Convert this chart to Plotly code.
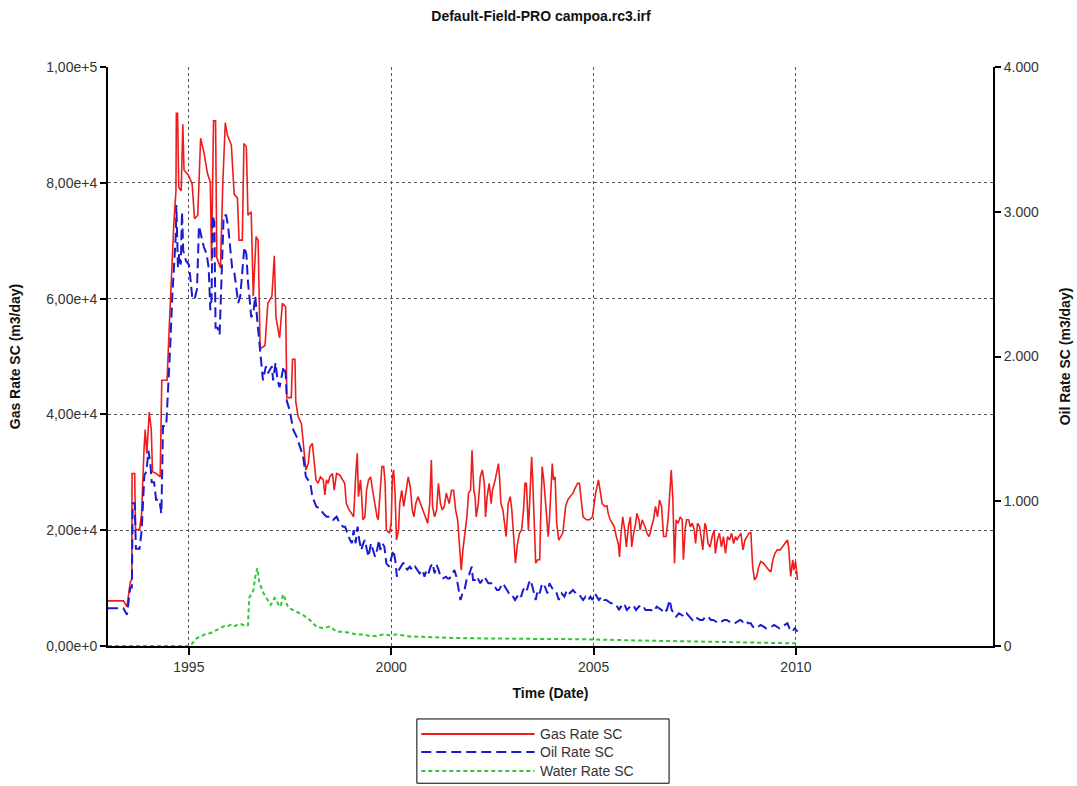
import plotly.graph_objects as go
from datetime import datetime

# ---- Field production rates (time as decimal year) ----
gas_t = [1993.00, 1993.38, 1993.47, 1993.55, 1993.59, 1993.595, 1993.66, 1993.68, 1993.78, 1993.83,
         1993.89, 1993.92, 1993.96, 1994.02, 1994.07, 1994.10, 1994.19, 1994.29, 1994.33, 1994.46,
         1994.51, 1994.57, 1994.63, 1994.68, 1994.69, 1994.72, 1994.75, 1994.81, 1994.85, 1994.88,
         1994.99, 1995.08, 1995.14, 1995.22, 1995.29, 1995.37, 1995.46, 1995.53, 1995.56, 1995.61,
         1995.66, 1995.69, 1995.78, 1995.84, 1995.90, 1995.95, 1996.05, 1996.12, 1996.20, 1996.24,
         1996.32, 1996.36, 1996.42, 1996.46, 1996.54, 1996.59, 1996.66, 1996.71, 1996.76, 1996.88,
         1996.95, 1997.05, 1997.11, 1997.15, 1997.24, 1997.31, 1997.39, 1997.42, 1997.53, 1997.56,
         1997.62, 1997.64,
         1997.70, 1997.78, 1997.84, 1997.89, 1997.95, 1997.99, 1998.05, 1998.09, 1998.14, 1998.19,
         1998.25, 1998.32, 1998.36, 1998.40, 1998.44, 1998.48, 1998.55, 1998.59, 1998.65, 1998.73,
         1998.79, 1998.85, 1998.89, 1998.96, 1999.02, 1999.07, 1999.12, 1999.16, 1999.19, 1999.24,
         1999.27, 1999.30, 1999.35, 1999.39, 1999.44, 1999.49, 1999.54, 1999.59, 1999.65, 1999.68,
         1999.73, 1999.77, 1999.815, 1999.85, 1999.88, 1999.96, 2000.00, 2000.03, 2000.06, 2000.095,
         2000.13, 2000.18, 2000.21, 2000.26, 2000.31, 2000.36, 2000.42, 2000.47, 2000.52, 2000.56,
         2000.605, 2000.66, 2000.72, 2000.79, 2000.85, 2000.90, 2000.95, 2000.99, 2001.02, 2001.07,
         2001.12, 2001.165, 2001.215, 2001.26, 2001.31, 2001.36, 2001.43, 2001.49, 2001.54, 2001.59,
         2001.64, 2001.69, 2001.73, 2001.77, 2001.82, 2001.87, 2001.91, 2001.96, 2001.996, 2002.04,
         2002.07, 2002.10, 2002.15, 2002.20, 2002.25, 2002.30, 2002.33, 2002.37, 2002.42, 2002.47,
         2002.50, 2002.55, 2002.60, 2002.65, 2002.68, 2002.71, 2002.76, 2002.81, 2002.84, 2002.89,
         2002.94, 2002.98, 2003.03, 2003.07, 2003.12, 2003.17, 2003.22, 2003.27, 2003.305, 2003.34,
         2003.39, 2003.42, 2003.47, 2003.50, 2003.54, 2003.57, 2003.62,
         2003.67, 2003.69, 2003.73, 2003.77, 2003.81, 2003.85, 2003.88, 2003.91, 2003.98, 2004.01,
         2004.05, 2004.09, 2004.14, 2004.19, 2004.24, 2004.31, 2004.36, 2004.42, 2004.49, 2004.56,
         2004.605, 2004.65, 2004.69, 2004.74, 2004.82, 2004.90, 2004.97, 2005.00, 2005.05, 2005.12,
         2005.165, 2005.21, 2005.28, 2005.33, 2005.36, 2005.41, 2005.46, 2005.51, 2005.56, 2005.61,
         2005.64, 2005.67, 2005.72, 2005.77, 2005.81, 2005.86, 2005.91, 2005.94, 2005.99, 2006.04,
         2006.07, 2006.12, 2006.15, 2006.20, 2006.27, 2006.32, 2006.37, 2006.40, 2006.43, 2006.48,
         2006.53, 2006.58, 2006.63, 2006.68, 2006.73, 2006.79, 2006.84, 2006.89, 2006.92, 2006.96,
         2007.00, 2007.04, 2007.09, 2007.14, 2007.19, 2007.22, 2007.27, 2007.30, 2007.35, 2007.39,
         2007.44, 2007.49, 2007.52, 2007.57, 2007.62, 2007.67, 2007.70, 2007.75, 2007.78, 2007.83,
         2007.88, 2007.93, 2007.98, 2008.01, 2008.06, 2008.11, 2008.16, 2008.21, 2008.26, 2008.31,
         2008.36, 2008.41, 2008.46, 2008.51, 2008.54, 2008.59, 2008.64, 2008.69, 2008.74, 2008.79,
         2008.84, 2008.885, 2008.93, 2008.975, 2009.03, 2009.08, 2009.13, 2009.20, 2009.26, 2009.33,
         2009.38, 2009.43, 2009.48, 2009.54, 2009.61, 2009.67, 2009.74, 2009.79, 2009.82, 2009.87,
         2009.92, 2009.95, 2009.99, 2010.02, 2010.04]
gas_q = [7800, 7800, 6800, 11000, 11600, 29800, 29800, 20100, 20100, 22800,
         33800, 37400, 33200, 40400, 37400, 30100, 29800, 29200, 45900, 45900,
         54400, 64000, 73200, 78600, 92000, 92000, 79200, 78600, 90100, 82200,
         81300, 79800, 73800, 74400, 87700, 85300, 81600, 80100, 66500, 90700,
         90700, 67100, 65300, 80100, 90400, 88300, 86500, 78000, 77400, 70100,
         70100, 86800, 86200, 74400, 75000, 60400, 70700, 70100, 51300, 51900,
         59200, 60400, 67400, 56800, 53200, 59200, 58600, 42900, 42900, 49500,
         49500, 42200,
         39600, 38400, 34400, 30400, 31500, 34400, 35000, 31500, 28700, 28100,
         29200, 28700, 26100, 28700, 28100, 29200, 29800, 26900, 29800, 29500,
         28700, 28100, 24600, 23500, 22900, 22300, 29200, 33300, 25800, 28700,
         25800, 21800, 22300, 26900, 28700, 29200, 26900, 24600, 22300, 21800,
         28100, 31000, 31000, 28100, 20000, 19500, 21200, 29200, 30400, 26400,
         18300, 20000, 24600, 26900, 24100, 26400, 29200, 27500, 23500, 22300,
         24600, 25800, 24600, 23500, 22300, 21200, 24600, 32100, 24100, 22300,
         23500, 28100, 24600, 23500, 24100, 26400, 24600, 26900, 26900, 23500,
         21800, 17700, 13100, 16600, 20000, 22300, 26400, 26900, 33800, 26900,
         25800, 22300, 24600, 29200, 30400, 28100, 22300, 25800, 28100, 24600,
         26900, 28100, 29800, 31500, 28700, 24600, 23500, 20000, 18900, 24600,
         25800, 23500, 17700, 14300, 17700, 19500, 20000, 23500, 28100, 28100,
         20000, 25800, 32700, 28100, 18900, 14300, 14900,
         14900, 21200, 31000, 28700, 25200, 20600, 18900, 21800, 31500, 28700,
         29200, 21200, 18300, 18900, 19500, 24100, 25200, 25800, 26400, 27500,
         28100, 28100, 25800, 22300, 21800, 21800, 22300, 24100, 26400, 28700,
         26900, 24600, 24100, 24200, 22900, 21800, 21200, 20600, 18900, 17700,
         15400, 18900, 22300, 20000, 17100, 20600, 22300, 17100, 19500, 21200,
         22900, 21800, 20000, 21800, 20600, 19500, 18900, 19500, 20600, 21800,
         24100, 22300, 25200, 24100, 18900, 18900, 21800, 26900, 30400, 25200,
         14300, 21800, 21200, 22300, 21800, 14900, 20600, 21800, 21800, 20600,
         21200, 20000, 17700, 21200, 20600, 18300, 16600, 21200, 20600, 17700,
         17100, 18900, 20000, 16000, 18300, 19500, 17100, 18900, 16000, 18900,
         18300, 19500, 17700, 18900, 18300, 18900, 19500, 16600, 18300, 18900,
         19500, 19600, 13700, 11400, 12000, 13700, 14600, 14300, 13700, 13100,
         12800, 14900, 16000, 16600, 16600, 17100, 17700, 18300, 17100, 12000,
         14900, 13100, 14600, 12000, 11400]

oil_t = [1993.00, 1993.38, 1993.47, 1993.55, 1993.59, 1993.61, 1993.66, 1993.69, 1993.78, 1993.83,
         1993.90, 1993.95, 1994.00, 1994.05, 1994.08, 1994.14, 1994.19, 1994.27, 1994.32, 1994.36,
         1994.44, 1994.49, 1994.54, 1994.59, 1994.64, 1994.68, 1994.69, 1994.73, 1994.76, 1994.80,
         1994.83, 1994.86, 1994.93, 1995.00, 1995.03, 1995.08, 1995.14, 1995.20, 1995.25, 1995.31,
         1995.37, 1995.44, 1995.49, 1995.53, 1995.56, 1995.59, 1995.63, 1995.66, 1995.71, 1995.76,
         1995.81, 1995.86, 1995.92, 1995.97, 1996.02, 1996.07, 1996.12, 1996.17, 1996.22, 1996.27,
         1996.32, 1996.37, 1996.42, 1996.46, 1996.51, 1996.54, 1996.59, 1996.64, 1996.69, 1996.73,
         1996.78, 1996.83, 1996.90, 1996.95, 1997.00, 1997.05, 1997.08, 1997.14, 1997.19, 1997.24,
         1997.29, 1997.34, 1997.39, 1997.42,
         1997.49, 1997.58, 1997.66, 1997.74, 1997.82, 1997.89, 1997.95, 1998.00, 1998.05, 1998.11,
         1998.15, 1998.235, 1998.32, 1998.40, 1998.48, 1998.56, 1998.65, 1998.73, 1998.81, 1998.86,
         1998.91, 1998.98, 1999.03, 1999.07, 1999.12, 1999.17, 1999.21, 1999.26, 1999.31, 1999.35,
         1999.40, 1999.44, 1999.50, 1999.55, 1999.60, 1999.65, 1999.70, 1999.73, 1999.78, 1999.83,
         1999.88, 1999.95, 2000.00, 2000.05, 2000.10, 2000.14, 2000.19, 2000.24, 2000.29, 2000.34,
         2000.39, 2000.46, 2000.52, 2000.59, 2000.655, 2000.70, 2000.77, 2000.82, 2000.87, 2000.92,
         2000.97, 2001.02, 2001.07, 2001.12, 2001.17, 2001.215, 2001.28, 2001.35, 2001.395, 2001.44,
         2001.51, 2001.56, 2001.61, 2001.66, 2001.71, 2001.76, 2001.81, 2001.86, 2001.91, 2001.96,
         2001.99, 2002.02, 2002.07, 2002.12, 2002.17, 2002.20, 2002.25, 2002.30, 2002.35, 2002.40,
         2002.45, 2002.51, 2002.56, 2002.61, 2002.66, 2002.71, 2002.76, 2002.81, 2002.86, 2002.91,
         2002.96, 2003.01, 2003.06, 2003.11, 2003.16, 2003.21, 2003.26, 2003.305, 2003.355, 2003.40,
         2003.44, 2003.49, 2003.54, 2003.57, 2003.62,
         2003.67, 2003.73, 2003.80, 2003.86, 2003.91, 2003.98, 2004.05, 2004.09, 2004.14, 2004.21,
         2004.28, 2004.34, 2004.41, 2004.49, 2004.56, 2004.62, 2004.69, 2004.74, 2004.80, 2004.87,
         2004.92, 2004.97, 2005.03, 2005.08, 2005.13, 2005.20, 2005.26, 2005.31, 2005.36, 2005.43,
         2005.49, 2005.56, 2005.63, 2005.67, 2005.72, 2005.77, 2005.82, 2005.89, 2005.94, 2006.00,
         2006.05, 2006.12, 2006.19, 2006.235, 2006.28, 2006.35, 2006.42, 2006.465, 2006.51, 2006.56,
         2006.63, 2006.68, 2006.74, 2006.81, 2006.88, 2006.93, 2006.98, 2007.04, 2007.11, 2007.17,
         2007.24, 2007.30, 2007.37, 2007.44, 2007.50, 2007.57, 2007.63, 2007.70, 2007.77, 2007.83,
         2007.90, 2007.96, 2008.03, 2008.09, 2008.16, 2008.23, 2008.29, 2008.36, 2008.42, 2008.49,
         2008.56, 2008.62, 2008.69, 2008.75, 2008.82, 2008.885, 2008.93, 2009.00, 2009.07, 2009.13,
         2009.20, 2009.26, 2009.33, 2009.40, 2009.46, 2009.53, 2009.59, 2009.66, 2009.72, 2009.79,
         2009.84, 2009.91, 2009.97, 2010.04]
oil_q = [260, 260, 216, 405, 405, 987, 987, 672, 672, 793,
         1180, 1205, 1350, 1253, 1132, 1132, 1011, 1011, 914, 1520,
         1520, 1763, 2078, 2417, 2708, 2853, 3047, 2611, 2708, 2635,
         2999, 2732, 2660, 2635, 2562, 2417, 2393, 2465, 2902, 2829,
         2756, 2708, 2611, 2320, 2393, 2975, 2926, 2199, 2199, 2150,
         2562, 2975, 2975, 2902, 2756, 2611, 2587, 2490, 2369, 2417,
         2562, 2756, 2708, 2514, 2369, 2272, 2296, 2417, 2247, 2126,
         1957, 1835, 1932, 1884, 1908, 1932, 1835, 1957, 1835, 1787,
         1860, 1932, 1884, 1690,
         1630, 1492, 1447, 1378, 1313, 1170, 1148, 1125, 1031, 985,
         962, 951, 916, 893, 893, 870, 893, 847, 824, 824,
         779, 733, 710, 801, 710, 825, 733, 663, 710, 733,
         663, 617, 710, 663, 617, 663, 733, 663, 710, 687,
         571, 548, 617, 663, 594, 479, 525, 548, 571, 571,
         525, 548, 525, 548, 525, 502, 525, 479, 525, 502,
         548, 571, 502, 560, 525, 479, 468, 479, 467, 467,
         502, 525, 479, 387, 318, 364, 387, 456, 479, 525,
         548, 456, 456, 479, 456, 433, 456, 479, 456, 433,
         433, 433, 410, 387, 387, 410, 433, 410, 387, 364,
         364, 341, 318, 341, 364, 341, 387, 410, 387, 433,
         456, 410, 341, 318, 387,
         364, 433, 410, 364, 433, 398, 387, 364, 318, 364,
         341, 387, 364, 387, 364, 364, 341, 318, 341, 318,
         341, 318, 364, 341, 318, 341, 318, 318, 307, 295,
         295, 283, 249, 272, 260, 283, 249, 272, 283, 272,
         249, 272, 283, 272, 249, 249, 249, 237, 249, 272,
         260, 249, 226, 249, 318, 249, 226, 203, 226, 214,
         203, 226, 203, 180, 203, 191, 180, 180, 203, 203,
         180, 180, 168, 157, 168, 180, 180, 168, 157, 157,
         168, 180, 168, 180, 157, 157, 134, 122, 134, 145,
         134, 122, 134, 134, 145, 134, 122, 134, 145, 157,
         122, 99, 122, 99]

water_t = [1993.00, 1995.03, 1995.12, 1995.20, 1995.29, 1995.37, 1995.46, 1995.54, 1995.63, 1995.71,
           1995.80, 1995.88, 1995.97, 1996.05, 1996.14, 1996.22, 1996.31, 1996.39, 1996.46, 1996.49,
           1996.54, 1996.59, 1996.64, 1996.69, 1996.73, 1996.78, 1996.81, 1996.86, 1996.92, 1996.97,
           1997.02, 1997.07, 1997.12, 1997.17, 1997.22, 1997.27, 1997.32, 1997.37, 1997.42, 1997.49,
           1997.66, 1997.82, 1997.99, 1998.15, 1998.32, 1998.48, 1998.65, 1998.81, 1998.98, 1999.14,
           1999.31, 1999.47, 1999.63, 1999.80, 1999.96, 2000.13, 2000.46, 2000.79, 2001.12, 2001.61,
           2002.10, 2002.43, 2002.93, 2003.26, 2003.58, 2003.67, 2004.00, 2004.33, 2004.65, 2004.98,
           2005.31, 2005.64, 2005.97, 2006.30, 2006.63, 2006.96, 2007.29, 2007.62, 2007.95, 2008.28,
           2008.61, 2008.93, 2009.26, 2009.59, 2009.92, 2010.04]
water_q = [0, 0, 30, 54, 66, 78, 85, 90, 102, 114,
           126, 138, 138, 150, 138, 150, 150, 138, 143, 332,
           357, 381, 478, 538, 454, 405, 381, 357, 332, 308,
           284, 308, 332, 308, 284, 272, 357, 332, 284, 260,
           237, 214, 180, 134, 122, 134, 99, 99, 90, 80,
           80, 69, 69, 80, 74, 80, 66, 62, 58, 55,
           53, 51, 50, 50, 49, 49, 50, 49, 47, 45,
           42, 40, 39, 37, 35, 34, 32, 30, 29, 28,
           25, 23, 23, 21, 18, 18]

series_names = ["Gas Rate SC", "Oil Rate SC", "Water Rate SC"]
series_colors = ["#ee1c1c", "#1a1ad0", "#33c633"]
series_dash = ["solid", "10px,5px", "4px,3px"]

year_ticks = ["1995-01-01", "2000-01-01", "2005-01-01", "2010-01-01"]
year_labels = ["1995", "2000", "2005", "2010"]


def to_date(y):
    yr = int(y)
    start = datetime(yr, 1, 1)
    end = datetime(yr + 1, 1, 1)
    return start + (end - start) * (y - yr)


FONT = "Liberation Sans, Arial, sans-serif"

fig = go.Figure()
fig.add_trace(go.Scatter(x=[to_date(v) for v in gas_t], y=gas_q, name=series_names[0],
                         mode="lines", line=dict(color=series_colors[0], width=1.6,
                                                 dash=series_dash[0]),
                         yaxis="y"))
fig.add_trace(go.Scatter(x=[to_date(v) for v in oil_t], y=oil_q, name=series_names[1],
                         mode="lines", line=dict(color=series_colors[1], width=2,
                                                 dash=series_dash[1]),
                         yaxis="y2"))
fig.add_trace(go.Scatter(x=[to_date(v) for v in water_t], y=water_q, name=series_names[2],
                         mode="lines", line=dict(color=series_colors[2], width=2,
                                                 dash=series_dash[2]),
                         yaxis="y2"))

grid = dict(showgrid=True, gridcolor="#555555", griddash="dot", gridwidth=1)

fig.update_layout(
    width=1077, height=786,
    margin=dict(l=108, r=84, t=67, b=140, autoexpand=False),
    paper_bgcolor="white", plot_bgcolor="white",
    separators=",.",
    showlegend=False,
    font=dict(family=FONT, size=13, color="#333333"),
    title=dict(text="<b>Default-Field-PRO campoa.rc3.irf</b>", x=541 / 1077, xref="container",
               xanchor="center", y=1 - 16 / 786, yref="container", yanchor="middle",
               font=dict(family=FONT, size=14, color="#111111")),
    xaxis=dict(type="date", range=[to_date(1993.0), to_date(2014.87)],
               tickvals=year_ticks, ticktext=year_labels,
               ticks="outside", ticklen=7, tickwidth=1.5, tickcolor="black",
               showline=True, linecolor="black", linewidth=2, zeroline=False,
               tickfont=dict(size=14, color="#333333"),
               title=dict(text="<b>Time (Date)</b>", standoff=14,
                          font=dict(size=14, color="#111111")),
               **grid),
    yaxis=dict(range=[0, 100000], dtick=20000, tickformat=".2e",
               ticks="outside", ticklen=6, tickwidth=1.5, tickcolor="black",
               showline=True, linecolor="black", linewidth=2, zeroline=False,
               tickfont=dict(size=14, color="#333333"),
               title=dict(text="<b>Gas Rate SC (m3/day)</b>", standoff=22,
                          font=dict(size=14, color="#111111")),
               **grid),
    yaxis2=dict(range=[0, 4000], dtick=1000, tickformat=",d", overlaying="y", side="right",
                ticks="outside", ticklen=6, tickwidth=1.5, tickcolor="black",
                showline=True, linecolor="black", linewidth=2, zeroline=False,
                showgrid=False,
                tickfont=dict(size=14, color="#333333"),
                title=dict(text="<b>Oil Rate SC (m3/day)</b>", standoff=22,
                           font=dict(size=14, color="#111111"))),
)

# Legend box drawn below the plot area (paper coordinates)
box_x0, box_x1 = 0.349, 0.634
box_y0, box_y1 = -0.237, -0.126
key_x0, key_x1 = 0.354, 0.482
label_x = 0.486
key_y = [-0.152, -0.183, -0.216]

fig.add_shape(type="rect", xref="paper", yref="paper", x0=box_x0, x1=box_x1,
              y0=box_y0, y1=box_y1, line=dict(color="black", width=1),
              fillcolor="white", layer="above")
for name, color, dash, ky in zip(series_names, series_colors, series_dash, key_y):
    fig.add_shape(type="line", xref="paper", yref="paper", x0=key_x0, x1=key_x1,
                  y0=ky, y1=ky, line=dict(color=color, width=2, dash=dash))
    fig.add_annotation(x=label_x, y=ky, xref="paper", yref="paper", text=name,
                       showarrow=False, xanchor="left", yanchor="middle",
                       font=dict(family=FONT, size=14, color="#333333"))

fig.write_html("out.html")
